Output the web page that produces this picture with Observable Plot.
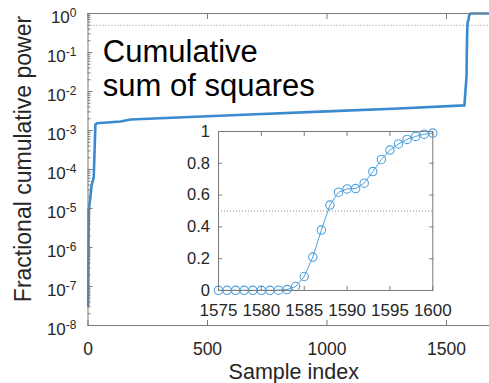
<!DOCTYPE html>
<html><head><meta charset="utf-8">
<script src="https://cdn.jsdelivr.net/npm/d3@7"></script>
<script src="https://cdn.jsdelivr.net/npm/@observablehq/plot@0.6"></script>
<style>
html,body{margin:0;padding:0;background:#fff;overflow:hidden}
#wrap{position:relative;width:489px;height:383px}
#wrap svg{display:block}
#inset{position:absolute;left:177.7px;top:120.7px}
</style></head><body><div id="wrap"><div id="main"></div><div id="inset"></div></div>
<script>
// ---- data ----
const mainIndex = [1, 3, 10, 15, 24, 31, 38, 136, 178, 600, 1000, 1300, 1575,
  1584, 1585, 1586, 1587, 1588, 1589, 1590, 1591, 1592, 1593, 1594, 1595, 1596, 1597, 1598, 1599, 1600, 1601, 1605, 1680];
const mainPower = [3.2e-8, 8.9e-6, 1.95e-5, 3.9e-5, 6.3e-5, 1.42e-3, 1.54e-3, 1.70e-3, 1.91e-3, 2.46e-3, 3.09e-3, 3.66e-3, 4.4e-3,
  0.025, 0.088, 0.21, 0.38, 0.537, 0.618, 0.639, 0.641, 0.675, 0.748, 0.824, 0.883, 0.922, 0.95, 0.969, 0.983, 0.99, 0.995, 1.0, 1.0];

const insetIndex = [1575, 1576, 1577, 1578, 1579, 1580, 1581, 1582, 1583, 1584, 1585, 1586, 1587,
  1588, 1589, 1590, 1591, 1592, 1593, 1594, 1595, 1596, 1597, 1598, 1599, 1600];
const insetPower = [0.001, 0.001, 0.001, 0.001, 0.001, 0.001, 0.001, 0.002, 0.006, 0.025, 0.088, 0.21, 0.38,
  0.537, 0.618, 0.639, 0.641, 0.675, 0.748, 0.824, 0.883, 0.922, 0.95, 0.969, 0.983, 0.99];

const mainXTicks = [0, 500, 1000, 1500];
const mainYTickExponents = [0, -1, -2, -3, -4, -5, -6, -7, -8];
const insetXTicks = [1575, 1580, 1585, 1590, 1595, 1600];
const insetYTicks = [0, 0.2, 0.4, 0.6, 0.8, 1];
const halfLevel = [0.5];
const annotation = ["Cumulative\nsum of squares"];
const xLabel = ["Sample index"];
const yLabel = ["Fractional cumulative power"];

// ---- styles ----
const FONT = "'Liberation Sans', Arial, Helvetica, sans-serif";
const INK = "#262626";
const FRAME = "#7a7a7a";
const MAIN_BLUE = "#3a8ad0";
const INSET_BLUE = "#4ea0dc";

const mainData = mainIndex.map((x, i) => ({x, y: mainPower[i]}));
const insetData = insetIndex.map((x, i) => ({x, y: insetPower[i]}));
const majorY = mainYTickExponents.map(e => Math.pow(10, e));
const minorY = d3.scaleLog().domain([1e-8, 1]).ticks().filter(v => Math.abs(Math.log10(v) - Math.round(Math.log10(v))) > 1e-6);
const empty = () => "";
const plain = d => String(d);

const main = Plot.plot({
  width: 489, height: 383,
  marginLeft: 87.5, marginRight: 0, marginTop: 13, marginBottom: 58,
  style: {fontFamily: FONT, color: INK, background: "transparent", overflow: "visible"},
  x: {domain: [0, 1680]},
  y: {type: "log", domain: [1e-8, 1]},
  marks: [
    Plot.ruleY(halfLevel, {stroke: "#8a8a8a", strokeDasharray: "1,2", strokeWidth: 1}),
    Plot.line(mainData, {x: "x", y: "y", stroke: MAIN_BLUE, strokeWidth: 2.6, strokeLinejoin: "round"}),
    Plot.ruleX([0], {stroke: FRAME}),
    Plot.ruleY([1e-8, 1], {stroke: FRAME}),
    Plot.axisX(mainXTicks, {anchor: "bottom", tickSize: 0, tickPadding: 17, fontSize: 17.5, tickFormat: plain, label: null}),
    Plot.axisX(mainXTicks, {anchor: "bottom", tickSize: -5, tickFormat: empty, stroke: FRAME, label: null}),
    Plot.axisX(mainXTicks, {anchor: "top", tickSize: -5, tickFormat: empty, stroke: FRAME, label: null}),
    Plot.axisY(majorY, {anchor: "left", tickSize: 0, tickPadding: 11.5, fontSize: 17, dy: 4,
      tickFormat: d => "10^" + Math.round(Math.log10(d)), label: null}),
    Plot.axisY(majorY, {anchor: "left", tickSize: -5, tickFormat: empty, stroke: FRAME, label: null}),
    Plot.axisY(minorY, {anchor: "left", tickSize: -3, tickFormat: empty, stroke: FRAME, label: null}),
    Plot.text(annotation, {frameAnchor: "top-left", textAnchor: "start", lineAnchor: "top",
      fontSize: 31, lineHeight: 1.097, dx: 14.8, dy: 24.3, fill: "#000"}),
    Plot.text(yLabel, {frameAnchor: "left", rotate: -90, textAnchor: "middle", lineAnchor: "middle",
      fontSize: 23, dx: -64, dy: -10.5, fill: INK}),
    Plot.text(xLabel, {frameAnchor: "bottom", textAnchor: "middle", lineAnchor: "middle",
      fontSize: 21.5, dx: 5, dy: 46.3, fill: INK})
  ]
});

// turn "10^e" tick labels into 10 with a raised exponent
d3.select(main).selectAll('g[aria-label="y-axis tick label"] text').each(function () {
  const t = this.textContent;
  const parts = t.split("^");
  if (parts.length !== 2) return;
  this.textContent = parts[0];
  d3.select(this).append("tspan").attr("dy", -6).attr("font-size", 12).text(parts[1]);
});
document.getElementById("main").appendChild(main);

const inset = Plot.plot({
  width: 264.3, height: 204,
  marginLeft: 40, marginRight: 10, marginTop: 10, marginBottom: 35,
  style: {fontFamily: FONT, color: INK, background: "transparent", overflow: "visible"},
  x: {domain: [1575, 1600]},
  y: {domain: [0, 1]},
  marks: [
    Plot.ruleY(halfLevel, {stroke: "#8a8a8a", strokeDasharray: "1,2", strokeWidth: 1}),
    Plot.line(insetData, {x: "x", y: "y", stroke: INSET_BLUE, strokeWidth: 1}),
    Plot.dot(insetData, {x: "x", y: "y", r: 4.2, stroke: INSET_BLUE, strokeWidth: 1.1, fill: "none"}),
    Plot.frame({stroke: FRAME}),
    Plot.axisX(insetXTicks, {anchor: "bottom", tickSize: 0, tickPadding: 13, fontSize: 17, tickFormat: plain, label: null}),
    Plot.axisX(insetXTicks, {anchor: "bottom", tickSize: -4, tickFormat: empty, stroke: FRAME, label: null}),
    Plot.axisX(insetXTicks, {anchor: "top", tickSize: -4, tickFormat: empty, stroke: FRAME, label: null}),
    Plot.axisY(insetYTicks, {anchor: "left", tickSize: 0, tickPadding: 8.5, fontSize: 16.5, label: null,
      tickFormat: plain}),
    Plot.axisY(insetYTicks, {anchor: "left", tickSize: -4, tickFormat: empty, stroke: FRAME, label: null}),
    Plot.axisY(insetYTicks, {anchor: "right", tickSize: -4, tickFormat: empty, stroke: FRAME, label: null})
  ]
});
document.getElementById("inset").appendChild(inset);
</script>
</body></html>
